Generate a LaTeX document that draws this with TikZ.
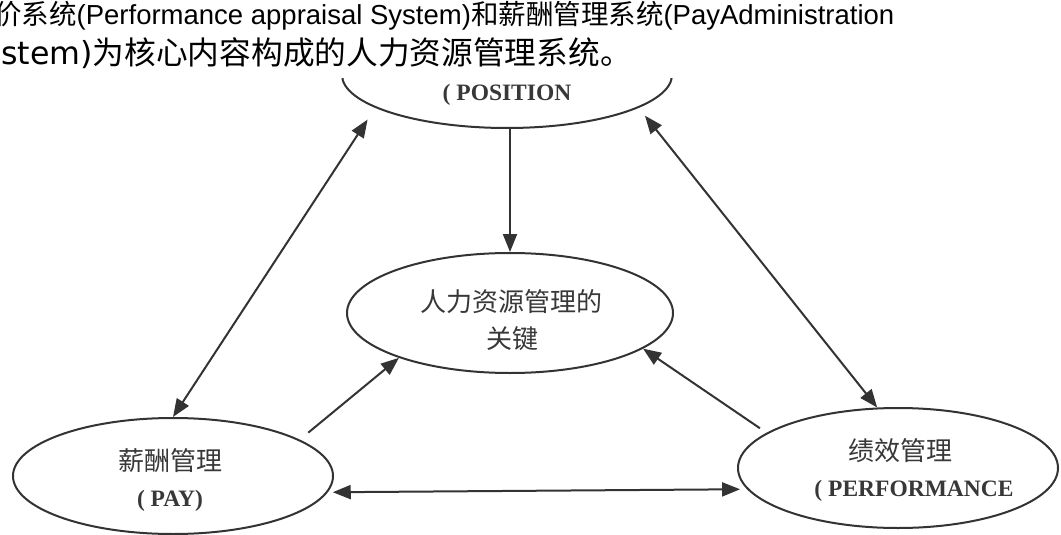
\documentclass[tikz,border=0pt]{standalone}
\usepackage{fontspec}
\setmainfont{Liberation Serif}
\newfontfamily\cjk{Noto Sans CJK SC}
\newfontfamily\hlat{Liberation Sans}
\newfontfamily\hdv{DejaVu Sans}
\newfontfamily\lser{Liberation Serif}
\usetikzlibrary{shapes.geometric,arrows.meta,calc}
\begin{document}
\begin{tikzpicture}[x=1pt,y=-1pt,
  bubble/.style={ellipse, draw=black!80, line width=2pt, inner sep=0pt},
  cjklbl/.style={inner sep=0pt, text=black!78, font=\cjk\fontsize{26}{26}\selectfont},
  latlbl/.style={inner sep=0pt, text=black!78, font=\lser\bfseries\fontsize{23.5}{23.5}\selectfont},
  conn/.style={line width=2pt, draw=black!80, -{Triangle[length=18pt,width=14pt]}},
  both/.style={line width=2pt, draw=black!80, {Triangle[length=18pt,width=14pt]}-{Triangle[length=18pt,width=14pt]}},
]
\useasboundingbox (0,0) rectangle (1061,535);
\fill[white] (0,0) rectangle (1061,535);
% ellipses
\node[bubble, minimum width=330pt, minimum height=106pt] (top) at (507,75) {};
\node[bubble, minimum width=326pt, minimum height=120pt] (mid) at (510,313) {};
\node[bubble, minimum width=320pt, minimum height=116pt] (pay) at (173,476) {};
\node[bubble, minimum width=320pt, minimum height=120pt] (perf) at (898,468) {};
% labels
\node[latlbl] (topl) at (507,95) {( POSITION};
\node[cjklbl] (midl1) at (511,302) {人力资源管理的};
\node[cjklbl] (midl2) at (512,339) {关键};
\node[cjklbl] (payl1) at (170,461) {薪酬管理};
\node[latlbl] (payl2) at (170,501) {( PAY)};
\node[cjklbl] (perfl1) at (900,451) {绩效管理};
\node[latlbl] (perfl2) at (914,491) {( PERFORMANCE};
% connectors
\draw[conn] (top.south -| mid.north) -- (mid.north);
\draw[both, shorten >=14pt] (pay.north) -- (top.194);
\draw[both, shorten <=10pt] (top.-14) -- (perf.109);
\draw[conn, shorten <=11pt] (pay.16) -- (mid.202);
\draw[conn, shorten <=8pt] (perf.165) -- (mid.-15);
\draw[both, shorten <=5pt, shorten >=7pt] (pay.-6) -- (perf.188);
% header band
\fill[white] (0,0) rectangle (1061,78);
\node[anchor=base west, inner sep=0pt, font=\fontsize{27.5}{27.5}\selectfont] (h1) at (-6,25) {{\cjk 价系统}{\hlat (Performance appraisal System)}{\cjk 和薪酬管理系统}{\hlat (PayAdministration}};
\node[anchor=base west, inner sep=0pt, font=\fontsize{31.7}{31.7}\selectfont] (h2) at (1,65) {{\hdv stem)}{\cjk 为核心内容构成的人力资源管理系统。}};
\end{tikzpicture}
\end{document}
